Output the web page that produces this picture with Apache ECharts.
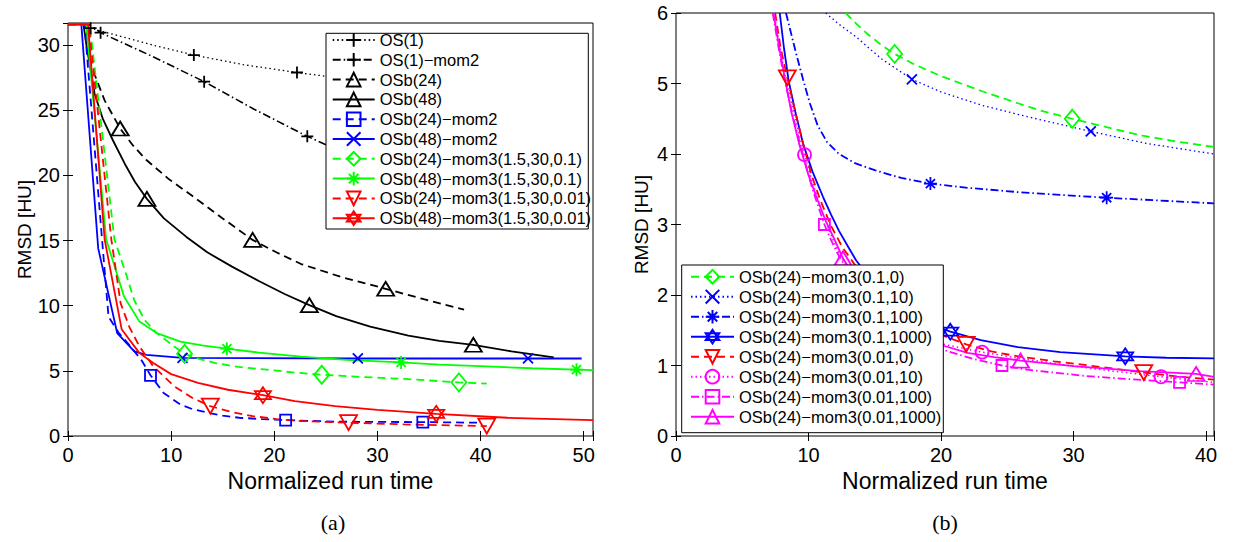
<!DOCTYPE html>
<html><head><meta charset="utf-8">
<script src="https://cdn.jsdelivr.net/npm/echarts@6/dist/echarts.min.js"></script>
<style>html,body{margin:0;padding:0;background:#fff}#c{width:1233px;height:542px}</style>
</head><body><div id="c"></div>
<script>
// ===== Axis ticks =====
const xTicksA = [0, 10, 20, 30, 40, 50];
const yTicksA = [0, 5, 10, 15, 20, 25, 30];
const xTicksB = [0, 10, 20, 30, 40];
const yTicksB = [0, 1, 2, 3, 4, 5, 6];

// ===== Panel (a) data: [run time, RMSD] ; marks = x of marker points =====
const a_os1 = [[0,31.6],[1.5,31.6],[2.19,31.3],[5,30.7],[8.5,29.95],[12.2,29.24],[17,28.5],[22.2,27.9],[30,27.1],[40,26.4],[48,26.0]];
const a_os1_m = [2.19,12.2,22.2];
const a_os1mom2 = [[0,31.6],[2.0,31.6],[3.16,30.96],[8,29.2],[13.2,27.2],[18,25.1],[23.2,23.0],[28,21.3],[33,19.8],[42,17.3]];
const a_os1mom2_m = [3.16,13.2,23.2];
const a_osb24 = [[0,31.6],[1.7,31.6],[2.26,28.4],[3.55,25.76],[5.06,23.6],[6.3,22.3],[7.58,21.2],[9.8,19.7],[12.1,18.4],[15,16.7],[17.9,15.05],[20.2,14.1],[22.6,13.2],[26.5,12.2],[30.8,11.3],[34.5,10.5],[38.4,9.7]];
const a_osb24_m = [5.06,17.9,30.8];
const a_osb48 = [[0,31.6],[1.5,31.6],[1.77,30.08],[2.58,26.27],[3.4,24.3],[4.35,22.7],[5.5,20.9],[6.5,19.5],[7.65,18.2],[9.3,16.7],[11.45,15.3],[13.5,14.1],[15.9,13.0],[18.5,11.9],[21,10.9],[23.4,10.05],[26,9.2],[29.3,8.4],[33,7.7],[36,7.3],[39.3,7.0],[43,6.5],[47.1,6.03]];
const a_osb48_m = [7.65,23.4,39.3];
const a_osb24mom2 = [[0,31.6],[1.6,31.6],[3.3,15.1],[3.93,9.16],[4.93,7.9],[5.93,7.0],[7.1,5.85],[8.0,4.66],[9.27,3.3],[10.9,2.42],[12.1,2.05],[13.6,1.78],[15,1.56],[16.6,1.4],[18.8,1.3],[21.1,1.22],[25.9,1.1],[30,1.08],[34.4,1.07],[39.8,1.02]];
const a_osb24mom2_m = [8.0,21.1,34.4];
const a_osb48mom2 = [[0,31.6],[1.29,31.6],[2.93,14.4],[4.77,7.9],[6.43,6.5],[7.6,6.23],[11.1,6.0],[28.1,5.95],[44.6,5.95],[49.8,5.95]];
const a_osb48mom2_m = [11.1,28.1,44.6];
const a_osb24g = [[0,31.6],[2.1,31.6],[4.5,15.1],[5.6,12.5],[6.43,10.4],[7.43,8.9],[8.6,7.9],[10.3,6.87],[11.3,6.31],[12.7,5.92],[14.3,5.6],[16.5,5.3],[19.3,5.09],[21.8,4.88],[24.6,4.7],[28.5,4.53],[32.6,4.38],[37.9,4.12],[40.6,4.02]];
const a_osb24g_m = [11.3,24.6,37.9];
const a_osb48g = [[0,31.6],[1.77,31.6],[3.7,15.1],[5.43,10.7],[6.93,8.78],[8.6,7.9],[10.9,7.25],[13,6.95],[15.4,6.7],[18.5,6.4],[22.6,6.1],[27,5.85],[32.3,5.65],[36,5.48],[40.6,5.34],[45,5.2],[49.3,5.09],[50.9,5.05]];
const a_osb48g_m = [15.4,32.3,49.3];
const a_osb24r = [[0,31.6],[2.0,31.6],[4.2,15.1],[5.1,10.2],[5.93,8.4],[6.93,6.87],[8.27,5.34],[10.3,3.82],[12,2.95],[13.8,2.29],[15.8,1.85],[17.9,1.53],[20.2,1.3],[22.6,1.15],[27.2,1.02],[32.6,0.89],[40.6,0.76]];
const a_osb24r_m = [13.8,27.2,40.6];
const a_osb48r = [[0,31.6],[1.94,31.6],[3.55,15.1],[5.2,8.2],[6.93,6.36],[8.27,5.6],[10,4.75],[12.6,4.07],[15.5,3.55],[18.9,3.13],[22,2.68],[25.9,2.29],[30,2.0],[35.7,1.70],[42.6,1.40],[50.9,1.22]];
const a_osb48r_m = [18.9,35.7];

// ===== Panel (b) data =====
const b_g0 = [[12.8,6.0],[13.6,5.85],[14.4,5.71],[15.4,5.56],[16.5,5.42],[18,5.27],[19.8,5.12],[21.5,5.0],[23.1,4.89],[25.8,4.72],[27.8,4.6],[29.9,4.5],[32.5,4.38],[35.2,4.26],[38,4.17],[40.6,4.1]];
const b_g0_m = [16.5,29.9];
const b_b10 = [[11.3,6.0],[12.3,5.84],[13.6,5.66],[15.5,5.35],[17.8,5.06],[20,4.88],[23.1,4.69],[26.5,4.53],[31.3,4.32],[35.5,4.15],[40.6,4.0]];
const b_b10_m = [17.8,31.3];
const b_b100 = [[8.3,6.0],[8.7,5.7],[9.1,5.4],[9.6,5.05],[10.1,4.72],[10.7,4.4],[11.4,4.17],[12.3,4.0],[13.5,3.87],[15.0,3.77],[17,3.66],[19.2,3.58],[22,3.52],[25.8,3.46],[29,3.42],[32.5,3.38],[36.5,3.34],[40.6,3.30]];
const b_b100_m = [19.2,32.5];
const b_b1000 = [[7.83,6.0],[8.15,5.5],[8.5,5.04],[9.0,4.6],[9.6,4.14],[10.3,3.75],[11.1,3.39],[11.7,3.14],[12.3,2.91],[13,2.68],[13.6,2.49],[15,2.15],[17,1.82],[19,1.6],[20.7,1.48],[23,1.36],[25.8,1.26],[29,1.19],[33.9,1.13],[37,1.11],[40.6,1.10]];
const b_b1000_m = [20.7,33.9];
const b_r0 = [[7.48,6.0],[7.9,5.5],[8.4,5.08],[9.0,4.6],[9.6,4.14],[10.2,3.72],[10.9,3.34],[11.7,2.98],[12.55,2.68],[13.6,2.4],[15,2.1],[17,1.76],[19,1.52],[20.2,1.42],[21.9,1.3],[23.8,1.2],[25.8,1.13],[28.5,1.06],[31.2,1.0],[35.3,0.9],[38,0.84],[40.6,0.8]];
const b_r0_m = [8.4,21.9,35.3];
const b_m10 = [[7.4,6.0],[7.85,5.5],[8.3,5.05],[9.0,4.5],[9.7,3.99],[10.3,3.6],[11,3.2],[11.7,2.85],[12.4,2.55],[14,2.1],[15.5,1.82],[17,1.6],[18.6,1.42],[20.2,1.3],[23.1,1.19],[26,1.1],[30,0.99],[33,0.92],[36.6,0.84],[40.6,0.76]];
const b_m10_m = [9.7,23.1,36.6];
const b_m100 = [[7.3,6.0],[7.75,5.5],[8.2,5.05],[8.8,4.55],[9.5,4.05],[10.3,3.5],[11.2,3.0],[11.7,2.78],[12.3,2.55],[14,2.05],[15.5,1.75],[17,1.55],[18.6,1.36],[20.2,1.22],[22.3,1.1],[24.6,1.0],[26.5,0.94],[28.5,0.9],[31,0.85],[33.9,0.81],[38,0.76],[40.6,0.73]];
const b_m100_m = [11.2,24.6,38];
const b_m1000 = [[7.35,6.0],[7.8,5.5],[8.2,5.09],[8.7,4.6],[9.3,4.14],[10,3.7],[10.7,3.34],[11.3,3.05],[12.0,2.77],[12.6,2.52],[14,2.1],[15.5,1.8],[17,1.6],[18.6,1.41],[20.2,1.28],[22,1.18],[24,1.12],[26.0,1.07],[30,0.99],[35,0.92],[39.25,0.88],[40.6,0.84]];
const b_m1000_m = [12.6,26.0,39.25];

// ===== styles =====
const FONT = 'Liberation Sans';
const DASH = [8,5], DOT = [1.5,3], DASHDOT = [8,3,1.5,3];
const SYM = {
  plus: 'path://M5,0 L5,10 M0,5 L10,5',
  cross: 'path://M0,0 L10,10 M10,0 L0,10',
  star: 'path://M5,0 L5,10 M0,5 L10,5 M1.5,1.5 L8.5,8.5 M8.5,1.5 L1.5,8.5',
  hex: 'path://M5,0 L9.33,7.5 L0.67,7.5 Z M5,10 L0.67,2.5 L9.33,2.5 Z',
  tdown: 'path://M0,0 L10,0 L5,8.66 Z',
  tup: 'triangle', square: 'rect', diamond: 'diamond', circle: 'circle'
};

function build(pts, marks) {
  return pts.map(p => marks.some(m => Math.abs(m - p[0]) < 1e-9) ? {value: p} : {value: p, symbol: 'none'});
}
function mk(panel, name, pts, marks, color, dash, width, sym, size) {
  const ai = panel === 'a' ? 0 : 2;
  return {
    type: 'line', name, xAxisIndex: ai, yAxisIndex: ai,
    data: build(pts, marks), symbol: SYM[sym], symbolSize: size,
    showAllSymbol: true, clip: true, silent: true, animation: false,
    color: color,
    lineStyle: {color, width, type: dash === null ? 'solid' : dash},
    itemStyle: {color: 'rgba(0,0,0,0)', borderColor: color, borderWidth: 1.8},
    emphasis: {disabled: true}
  };
}
const K = '#000', B = '#0000ff', G = '#00ff00', R = '#ff0000', M = '#ff00ff';
const seriesA = [
  mk('a','OS(1)', a_os1, a_os1_m, K, DOT, 1.3, 'plus', 12),
  mk('a','OS(1)\u2212mom2', a_os1mom2, a_os1mom2_m, K, DASHDOT, 1.6, 'plus', 12),
  mk('a','OSb(24)', a_osb24, a_osb24_m, K, DASH, 1.8, 'tup', [17,14]),
  mk('a','OSb(48)', a_osb48, a_osb48_m, K, null, 1.8, 'tup', [17,14]),
  mk('a','OSb(24)\u2212mom2', a_osb24mom2, a_osb24mom2_m, B, DASH, 1.8, 'square', 11),
  mk('a','OSb(48)\u2212mom2', a_osb48mom2, a_osb48mom2_m, B, null, 1.8, 'cross', 10),
  mk('a','OSb(24)\u2212mom3(1.5,30,0.1)', a_osb24g, a_osb24g_m, G, DASH, 1.8, 'diamond', [15,18]),
  mk('a','OSb(48)\u2212mom3(1.5,30,0.1)', a_osb48g, a_osb48g_m, G, null, 1.8, 'star', 13),
  mk('a','OSb(24)\u2212mom3(1.5,30,0.01)', a_osb24r, a_osb24r_m, R, DASH, 1.8, 'tdown', [17,15]),
  mk('a','OSb(48)\u2212mom3(1.5,30,0.01)', a_osb48r, a_osb48r_m, R, null, 1.8, 'hex', 16)
];
const seriesB = [
  mk('b','OSb(24)\u2212mom3(0.1,0)', b_g0, b_g0_m, G, DASH, 1.8, 'diamond', [15,18]),
  mk('b','OSb(24)\u2212mom3(0.1,10)', b_b10, b_b10_m, B, DOT, 1.3, 'cross', 10),
  mk('b','OSb(24)\u2212mom3(0.1,100)', b_b100, b_b100_m, B, DASHDOT, 1.8, 'star', 13),
  mk('b','OSb(24)\u2212mom3(0.1,1000)', b_b1000, b_b1000_m, B, null, 1.8, 'hex', 16),
  mk('b','OSb(24)\u2212mom3(0.01,0)', b_r0, b_r0_m, R, DASH, 1.8, 'tdown', [17,15]),
  mk('b','OSb(24)\u2212mom3(0.01,10)', b_m10, b_m10_m, M, DOT, 1.5, 'circle', 13),
  mk('b','OSb(24)\u2212mom3(0.01,100)', b_m100, b_m100_m, M, DASHDOT, 1.8, 'square', 11),
  mk('b','OSb(24)\u2212mom3(0.01,1000)', b_m1000, b_m1000_m, M, null, 1.8, 'tup', [17,14])
];

const tickStyle = {show: true, inside: true, length: 5, lineStyle: {color: '#000', width: 1}};
const lblStyle = (ticks, margin) => ({
  show: true, margin, color: '#000', fontFamily: FONT, fontSize: 20,
  formatter: v => ticks.some(t => Math.abs(t - v) < 1e-9) ? String(v) : ''
});
function xAxis(grid, max, ticks, pos, main, name) {
  return {
    type: 'value', gridIndex: grid, min: 0, max, interval: 10, position: pos,
    axisLine: {show: false}, splitLine: {show: false}, axisTick: tickStyle,
    axisLabel: main ? lblStyle(ticks, 9) : {show: false},
    name: main ? name : '', nameLocation: 'middle', nameGap: 25,
    nameTextStyle: {color: '#000', fontFamily: FONT, fontSize: 23}
  };
}
function yAxis(grid, max, interval, ticks, pos, main, gap) {
  return {
    type: 'value', gridIndex: grid, min: 0, max, interval, position: pos,
    axisLine: {show: false}, splitLine: {show: false}, axisTick: tickStyle,
    axisLabel: main ? lblStyle(ticks, 8) : {show: false},
    name: main ? 'RMSD [HU]' : '', nameLocation: 'middle', nameGap: gap, nameRotate: 90,
    nameTextStyle: {color: '#000', fontFamily: FONT, fontSize: 19}
  };
}

const legendText = {color: '#000', fontFamily: FONT, fontSize: 16.5, lineHeight: 17};
const option = {
  animation: false,
  backgroundColor: '#fff',
  grid: [
    {left: 68, top: 23, width: 525, height: 413, show: true, borderColor: '#000', borderWidth: 1, backgroundColor: 'rgba(0,0,0,0)'},
    {left: 676, top: 13, width: 538, height: 423, show: true, borderColor: '#000', borderWidth: 1, backgroundColor: 'rgba(0,0,0,0)'}
  ],
  xAxis: [
    xAxis(0, 50.9, xTicksA, 'bottom', true, 'Normalized run time'),
    xAxis(0, 50.9, xTicksA, 'top', false, ''),
    xAxis(1, 40.6, xTicksB, 'bottom', true, 'Normalized run time'),
    xAxis(1, 40.6, xTicksB, 'top', false, '')
  ],
  yAxis: [
    yAxis(0, 31.7, 5, yTicksA, 'left', true, 34),
    yAxis(0, 31.7, 5, yTicksA, 'right', false, 0),
    yAxis(1, 6, 1, yTicksB, 'left', true, 25),
    yAxis(1, 6, 1, yTicksB, 'right', false, 0)
  ],
  legend: [
    {data: seriesA.map(s => s.name), orient: 'vertical', left: 331.7, top: 31.5, padding: 0,
     itemWidth: 42, itemHeight: 17, itemGap: 2.8, selectedMode: false, z: 20, textStyle: legendText},
    {data: seriesB.map(s => s.name), orient: 'vertical', left: 690, top: 268.2, padding: 0,
     itemWidth: 43, itemHeight: 17, itemGap: 3, selectedMode: false, z: 20, textStyle: legendText}
  ],
  graphic: [
    {type: 'rect', z: 10, shape: {x: 326, y: 33.3, width: 262.3, height: 195.7}, style: {fill: '#fff', stroke: '#000', lineWidth: 1}},
    {type: 'rect', z: 10, shape: {x: 681.7, y: 265, width: 261.6, height: 167.7}, style: {fill: '#fff', stroke: '#000', lineWidth: 1}},
    {type: 'text', z: 10, x: 333, y: 522, style: {text: '(a)', fill: '#000', font: '22px "Liberation Serif"', textAlign: 'center', textVerticalAlign: 'middle'}},
    {type: 'text', z: 10, x: 945, y: 522, style: {text: '(b)', fill: '#000', font: '22px "Liberation Serif"', textAlign: 'center', textVerticalAlign: 'middle'}}
  ],
  series: seriesA.concat(seriesB)
};
const chart = echarts.init(document.getElementById('c'), null, {renderer: 'svg'});
chart.setOption(option);
</script></body></html>
